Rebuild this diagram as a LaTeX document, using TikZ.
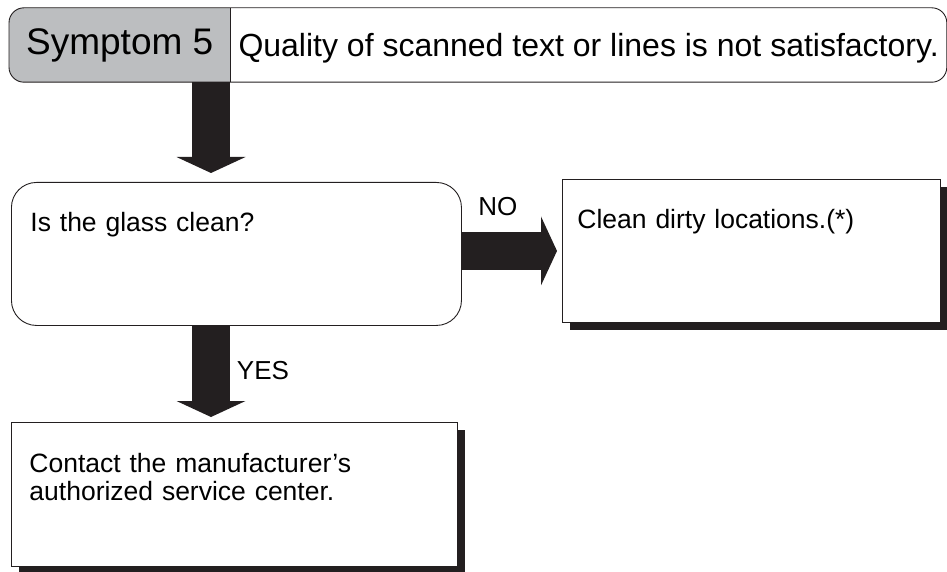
\documentclass[tikz,border=0pt]{standalone}
\usepackage{fontspec}
\setmainfont{Liberation Sans}
\usetikzlibrary{arrows.meta,calc,positioning,shadows,backgrounds}
\definecolor{sxink}{RGB}{35,31,32}
\definecolor{sxgray}{RGB}{188,190,192}

\begin{document}
\begin{tikzpicture}[x=1pt, y=1pt,
    hdr/.style={minimum height=74pt, inner sep=0pt, anchor=west},
    stepbox/.style={draw=sxink, line width=0.9pt, fill=white, align=left, inner ysep=0pt, text height=49pt, text depth=94pt, font=\fontsize{26.5}{28}\selectfont},
    shadowbox/.style={stepbox, drop shadow={shadow xshift=8pt, shadow yshift=-8pt, fill=sxink, opacity=1}},
    bigarrow/.style={draw=sxink, line width=38pt, -{Triangle[length=16pt, width=69pt, line width=0pt]}},
    tag/.style={font=\fontsize{26}{28}\selectfont, inner sep=0pt}
  ]
  \useasboundingbox (0,0) rectangle (947,-572);
  \coordinate (spine) at (211,0);

  % Header: symptom number and description
  \node[hdr, minimum width=221pt, text height=30pt, text depth=10pt, font=\fontsize{37}{40}\selectfont] (sym) at (9,-45) {Symptom 5};
  \node[hdr, minimum width=716pt, text height=30pt, text depth=6pt, font=\fontsize{32}{36}\selectfont] (title) at (sym.east) {Quality of scanned text or lines is not satisfactory.};
  \begin{pgfonlayer}{background}
    \fill[sxgray, rounded corners=15pt] (sym.north east) -| (sym.south west) -- (sym.south east);
  \end{pgfonlayer}
  \draw[sxink, line width=0.9pt, rounded corners=15pt] (sym.south west) rectangle (title.north east);
  \draw[sxink, line width=0.9pt] (sym.north east) -- (sym.south east);

  % Question
  \node[stepbox, rounded corners=25pt, anchor=north west, text width=412pt, inner xsep=19pt] (glass) at (11,-182) {Is the glass clean?};

  % Answers
  \node[shadowbox, anchor=north west, text width=348pt, inner xsep=15pt] (clean) at (562,-179) {Clean dirty locations.(*)};
  \node[shadowbox, anchor=north west, text width=410pt, inner xsep=18pt, text height=50pt] (contact) at (11,-422) {Contact the manufacturer's\\authorized service center.};

  % Arrows
  \draw[bigarrow, shorten >=9pt] (sym.south -| spine) -- (glass.north -| spine);
  \draw[bigarrow, shorten >=5pt] (glass.south -| spine) -- node[tag, pos=0.46, xshift=52pt] (yes) {YES} (contact.north -| spine);
  \draw[bigarrow, shorten >=5pt] (glass.east |- clean.west) -- node[tag, pos=0.36, yshift=44pt] (no) {NO} (clean.west);
\end{tikzpicture}
\end{document}
